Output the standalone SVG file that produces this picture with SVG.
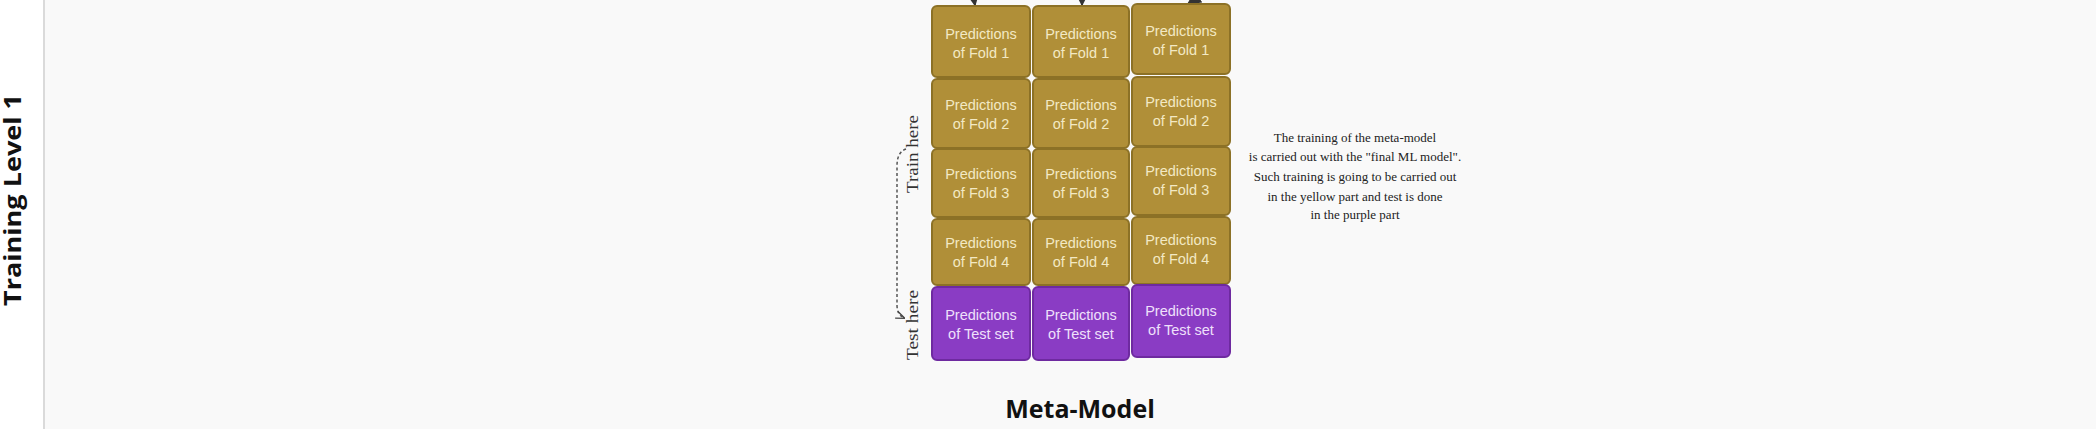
<svg xmlns="http://www.w3.org/2000/svg" width="2096" height="429" viewBox="0 0 2096 429">
<defs>
<style>
.gold{fill:#b08f38;stroke:#8c7126;stroke-width:2}
.purp{fill:#8a3cc4;stroke:#6e2aa0;stroke-width:2}
.gt{font-family:"Liberation Sans",Arial,sans-serif;font-size:14.5px;fill:#f3e9c4;text-anchor:middle}
.pt{font-family:"Liberation Sans",Arial,sans-serif;font-size:14.5px;fill:#efe0fb;text-anchor:middle}
.note{font-family:"Liberation Serif","Times New Roman",serif;font-size:13px;fill:#222;text-anchor:middle}
.side{font-family:"Liberation Serif","Times New Roman",serif;font-size:16px;fill:#333;text-anchor:middle}
</style>
<marker id="ah" viewBox="0 0 10 10" refX="9" refY="5" markerWidth="7" markerHeight="7" orient="auto"><path d="M0,0 L10,5 L0,10 z" fill="#333"/></marker>
<marker id="ah2" viewBox="0 0 10 10" refX="9" refY="5" markerWidth="6" markerHeight="6" orient="auto"><path d="M0,1 L10,5 L0,9" fill="none" stroke="#444" stroke-width="1.5"/></marker>
</defs>
<rect x="0" y="0" width="2096" height="429" fill="#f9f9f9"/>
<rect x="0" y="0" width="43" height="429" fill="#ffffff"/>
<rect x="43" y="0" width="2" height="429" fill="#dadada"/>
<text x="0" y="0" transform="translate(21,200) rotate(-90)" font-family="'Open Sans','Liberation Sans',sans-serif" font-weight="bold" font-size="23" fill="#111" text-anchor="middle" textLength="212" lengthAdjust="spacingAndGlyphs">Training Level 1</text>

<g id="connectors">
<line x1="972" y1="-12" x2="975" y2="5" stroke="#333" stroke-width="2" marker-end="url(#ah)"/>
<line x1="1082" y1="-12" x2="1082" y2="5" stroke="#333" stroke-width="2" marker-end="url(#ah)"/>
<line x1="1205" y1="-8" x2="1188" y2="4" stroke="#333" stroke-width="2" marker-end="url(#ah)"/>
<path d="M906,149 Q897,152 897,166 L897,305 Q897,315 904,318" fill="none" stroke="#555" stroke-width="1.5" stroke-dasharray="3,2.5" marker-end="url(#ah2)"/>
</g>

<g id="col1">
<g id="c1r1"><rect class="gold" x="932" y="6" width="98" height="71" rx="5"/><text class="gt" x="981" y="39">Predictions</text><text class="gt" x="981" y="58">of Fold 1</text></g>
<g id="c1r2"><rect class="gold" x="932" y="79" width="98" height="69" rx="5"/><text class="gt" x="981" y="110">Predictions</text><text class="gt" x="981" y="129">of Fold 2</text></g>
<g id="c1r3"><rect class="gold" x="932" y="149" width="98" height="68" rx="5"/><text class="gt" x="981" y="179">Predictions</text><text class="gt" x="981" y="198">of Fold 3</text></g>
<g id="c1r4"><rect class="gold" x="932" y="219" width="98" height="66" rx="5"/><text class="gt" x="981" y="248">Predictions</text><text class="gt" x="981" y="267">of Fold 4</text></g>
<g id="c1r5"><rect class="purp" x="932" y="287" width="98" height="73" rx="5"/><text class="pt" x="981" y="320">Predictions</text><text class="pt" x="981" y="339">of Test set</text></g>
</g>
<g id="col2">
<g id="c2r1"><rect class="gold" x="1033" y="6" width="96" height="71" rx="5"/><text class="gt" x="1081" y="39">Predictions</text><text class="gt" x="1081" y="58">of Fold 1</text></g>
<g id="c2r2"><rect class="gold" x="1033" y="79" width="96" height="69" rx="5"/><text class="gt" x="1081" y="110">Predictions</text><text class="gt" x="1081" y="129">of Fold 2</text></g>
<g id="c2r3"><rect class="gold" x="1033" y="149" width="96" height="68" rx="5"/><text class="gt" x="1081" y="179">Predictions</text><text class="gt" x="1081" y="198">of Fold 3</text></g>
<g id="c2r4"><rect class="gold" x="1033" y="219" width="96" height="66" rx="5"/><text class="gt" x="1081" y="248">Predictions</text><text class="gt" x="1081" y="267">of Fold 4</text></g>
<g id="c2r5"><rect class="purp" x="1033" y="287" width="96" height="73" rx="5"/><text class="pt" x="1081" y="320">Predictions</text><text class="pt" x="1081" y="339">of Test set</text></g>
</g>
<g id="col3">
<g id="c3r1"><rect class="gold" x="1132" y="4" width="98" height="70" rx="5"/><text class="gt" x="1181" y="36">Predictions</text><text class="gt" x="1181" y="55">of Fold 1</text></g>
<g id="c3r2"><rect class="gold" x="1132" y="77" width="98" height="69" rx="5"/><text class="gt" x="1181" y="107">Predictions</text><text class="gt" x="1181" y="126">of Fold 2</text></g>
<g id="c3r3"><rect class="gold" x="1132" y="147" width="98" height="68" rx="5"/><text class="gt" x="1181" y="176">Predictions</text><text class="gt" x="1181" y="195">of Fold 3</text></g>
<g id="c3r4"><rect class="gold" x="1132" y="217" width="98" height="67" rx="5"/><text class="gt" x="1181" y="245">Predictions</text><text class="gt" x="1181" y="264">of Fold 4</text></g>
<g id="c3r5"><rect class="purp" x="1132" y="285" width="98" height="72" rx="5"/><text class="pt" x="1181" y="316">Predictions</text><text class="pt" x="1181" y="335">of Test set</text></g>
</g>

<g id="labels">
<text class="side" transform="translate(918,154) rotate(-90)" textLength="78" lengthAdjust="spacingAndGlyphs">Train here</text>
<text class="side" transform="translate(918,325) rotate(-90)" textLength="70" lengthAdjust="spacingAndGlyphs">Test here</text>
<text x="1080" y="418" font-family="'Open Sans','Liberation Sans',sans-serif" font-weight="bold" font-size="25" fill="#111" text-anchor="middle">Meta-Model</text>
</g>

<g id="note">
<text class="note" x="1355" y="142">The training of the meta-model</text>
<text class="note" x="1355" y="161">is carried out with the "final ML model".</text>
<text class="note" x="1355" y="181">Such training is going to be carried out</text>
<text class="note" x="1355" y="201">in the yellow part and test is done</text>
<text class="note" x="1355" y="219">in the purple part</text>
</g>
</svg>
